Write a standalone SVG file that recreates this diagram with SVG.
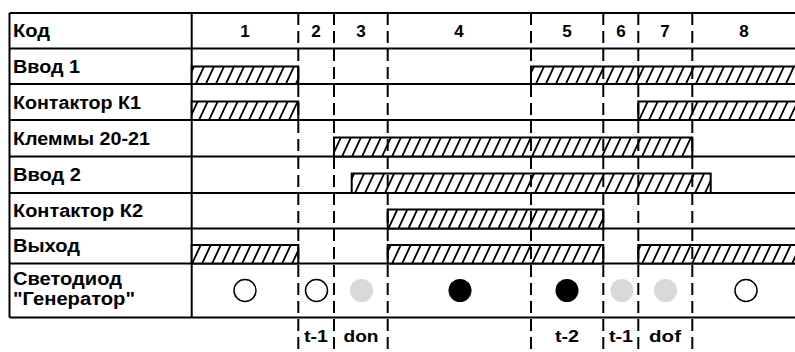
<svg xmlns="http://www.w3.org/2000/svg" width="795" height="352" viewBox="0 0 795 352">
<style>
.t{font-family:"Liberation Sans",Arial,sans-serif;font-weight:bold;fill:#000}
.lb{font-size:18px}
.hd{font-size:17px;text-anchor:middle}
.grid{stroke:#000;stroke-width:2;fill:none}
.dash{stroke:#000;stroke-width:2;stroke-dasharray:12 6;fill:none}
.sig{fill:url(#hatch);stroke:#000;stroke-width:2}
.led-off{fill:#fff;stroke:#000;stroke-width:1.5}
.led-on{fill:#000}
.led-blink{fill:#d9d9d9}
</style>
<defs>
<pattern id="hatch" patternUnits="userSpaceOnUse" width="10" height="10" patternTransform="skewX(-25)">
<rect width="10" height="10" fill="#fff"/>
<line x1="5" y1="-1" x2="5" y2="11" stroke="#000" stroke-width="2"/>
</pattern>
</defs>
<rect width="795" height="352" fill="#fff"/>

<g id="grid" class="grid">
<path d="M9.5 13H800M9.5 48.5H800M9.5 84H800M9.5 120H800M9.5 156.5H800M9.5 193H800M9.5 228.5H800M9.5 263.5H800M9.5 317.5H800"/>
<path d="M9.5 13V317.5M191.7 13V317.5"/>
</g>

<g id="row-vvod1">
<text class="t lb" x="13" y="73" textLength="67" lengthAdjust="spacingAndGlyphs">Ввод 1</text>
<rect class="sig" x="191.7" y="66.5" width="106.6" height="17.5"/>
<rect class="sig" x="531" y="66.5" width="270" height="17.5"/>
</g>
<g id="row-k1">
<text class="t lb" x="13" y="108.5" textLength="128" lengthAdjust="spacingAndGlyphs">Контактор К1</text>
<rect class="sig" x="191.7" y="101.5" width="106.6" height="18.5"/>
<rect class="sig" x="638.3" y="101.5" width="170" height="18.5"/>
</g>
<g id="row-klemmy">
<text class="t lb" x="13" y="144.5" textLength="137" lengthAdjust="spacingAndGlyphs">Клеммы 20-21</text>
<rect class="sig" x="334" y="137.5" width="358.3" height="19"/>
</g>
<g id="row-vvod2">
<text class="t lb" x="13" y="180.5" textLength="68" lengthAdjust="spacingAndGlyphs">Ввод 2</text>
<rect class="sig" x="351.7" y="173.5" width="359" height="19.5"/>
</g>
<g id="row-k2">
<text class="t lb" x="13" y="216.5" textLength="130" lengthAdjust="spacingAndGlyphs">Контактор К2</text>
<rect class="sig" x="387.7" y="209.5" width="215.6" height="19"/>
</g>
<g id="row-vyhod">
<text class="t lb" x="13" y="252" textLength="67" lengthAdjust="spacingAndGlyphs">Выход</text>
<rect class="sig" x="191.7" y="245" width="106.6" height="18.5"/>
<rect class="sig" x="387.7" y="245" width="215.6" height="18.5"/>
<rect class="sig" x="638.3" y="245" width="170" height="18.5"/>
</g>

<g id="connectors" class="dash">
<path d="M298.3 13V352M334 13V352M387.7 13V352M531 13V352M603.3 13V352M638.3 13V352M692.3 13V352"/>
</g>

<g id="header">
<text class="t lb" x="13" y="37" textLength="37" lengthAdjust="spacingAndGlyphs">Код</text>
<text class="t hd" x="245" y="37">1</text>
<text class="t hd" x="316" y="37">2</text>
<text class="t hd" x="361" y="37">3</text>
<text class="t hd" x="459" y="37">4</text>
<text class="t hd" x="567" y="37">5</text>
<text class="t hd" x="621" y="37">6</text>
<text class="t hd" x="665" y="37">7</text>
<text class="t hd" x="744" y="37">8</text>
</g>

<g id="row-led">
<text class="t lb" x="13" y="284.5" textLength="109" lengthAdjust="spacingAndGlyphs">Светодиод</text>
<text class="t lb" x="13" y="304.5" textLength="122" lengthAdjust="spacingAndGlyphs">"Генератор"</text>
<circle class="led-off" cx="245" cy="290.5" r="11"/>
<circle class="led-off" cx="316.5" cy="290.5" r="11"/>
<circle class="led-blink" cx="361.5" cy="290.5" r="11.5"/>
<circle class="led-on" cx="460" cy="290.5" r="11.5"/>
<circle class="led-on" cx="567" cy="290.5" r="11.5"/>
<circle class="led-blink" cx="622" cy="290.5" r="11.5"/>
<circle class="led-blink" cx="665.5" cy="290.5" r="11.5"/>
<circle class="led-off" cx="746" cy="290.5" r="11"/>
</g>

<g id="timers">
<text class="t hd" x="316" y="342" textLength="24" lengthAdjust="spacingAndGlyphs">t-1</text>
<text class="t hd" x="361" y="342" textLength="35" lengthAdjust="spacingAndGlyphs">don</text>
<text class="t hd" x="567" y="342" textLength="24" lengthAdjust="spacingAndGlyphs">t-2</text>
<text class="t hd" x="621" y="342" textLength="24" lengthAdjust="spacingAndGlyphs">t-1</text>
<text class="t hd" x="665" y="342" textLength="32" lengthAdjust="spacingAndGlyphs">dof</text>
</g>
</svg>
